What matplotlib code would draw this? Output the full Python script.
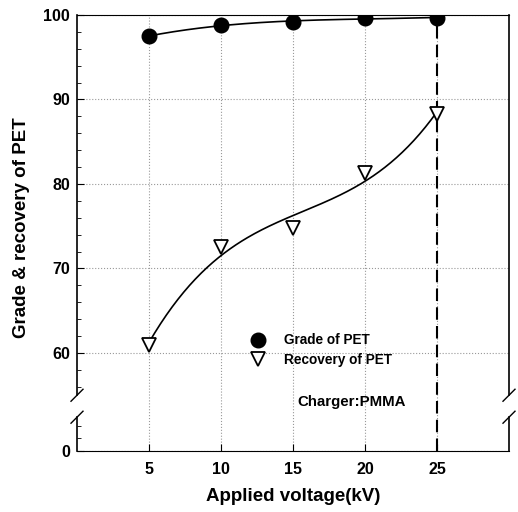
import numpy as np
import matplotlib
matplotlib.use("Agg")
import matplotlib.pyplot as plt
from matplotlib.scale import FuncScale
from matplotlib.ticker import FixedLocator

plt.rcParams['font.family'] = ['Liberation Sans', 'DejaVu Sans']
plt.rcParams['font.weight'] = 'bold'

voltage = [5, 10, 15, 20, 25]
grade = [97.5, 98.8, 99.2, 99.6, 99.7]
recovery = [61.0, 72.5, 74.8, 81.3, 88.3]

x_ticks = [5, 10, 15, 20, 25]
y_major = [0, 60, 70, 80, 90, 100]
y_minor = [1.5, 3] + list(range(56, 100, 2))

# broken y axis: 0-4 at the bottom, gap, then 55-100
LOW_TOP, HIGH_BOT, GAP = 4.0, 55.0, 2.6


def fwd(y):
    y = np.asarray(y, dtype=float)
    return np.where(y <= LOW_TOP, y,
                    np.where(y >= HIGH_BOT, y - HIGH_BOT + LOW_TOP + GAP,
                             LOW_TOP + (y - LOW_TOP) / (HIGH_BOT - LOW_TOP) * GAP))


def inv(s):
    s = np.asarray(s, dtype=float)
    return np.where(s <= LOW_TOP, s,
                    np.where(s >= LOW_TOP + GAP, s - LOW_TOP - GAP + HIGH_BOT,
                             LOW_TOP + (s - LOW_TOP) / GAP * (HIGH_BOT - LOW_TOP)))


fig = plt.figure(figsize=(5.18, 5.12), dpi=100)
ax = fig.add_axes([77 / 518, 1 - 451 / 512, 432 / 518, 436 / 512])
ax.set_yscale(FuncScale(ax, (fwd, inv)))
ax.set_xlim(0, 30)
ax.set_ylim(0, 100)

ax.yaxis.set_major_locator(FixedLocator(y_major))
ax.yaxis.set_minor_locator(FixedLocator(y_minor))
ax.set_yticklabels([str(v) for v in y_major])
ax.set_xticks(x_ticks)
ax.tick_params(axis='both', which='both', direction='in', labelsize=11.5)
ax.tick_params(axis='y', which='major', length=5, pad=5)
ax.tick_params(axis='y', which='minor', length=3)
ax.tick_params(axis='x', which='major', length=5, pad=8)

ax.grid(True, which='major', linestyle=':', color='#999999', linewidth=0.8)

# trend curves
xs = np.linspace(5, 25, 200)
ax.plot(xs, np.polyval(np.polyfit(voltage, grade, 3), xs), color='black', lw=1.2)
ax.plot(xs, np.polyval(np.polyfit(voltage, recovery, 3), xs), color='black', lw=1.2)

ax.plot(voltage, grade, 'o', color='black', ms=10.5, ls='none', label='Grade of PET', zorder=5)
ax.plot(voltage, recovery, 'v', mfc='white', mec='black', mew=1.3, ms=10.5,
        ls='none', label='Recovery of PET', zorder=5)

ax.axvline(25, color='black', lw=1.5, dashes=(6, 3), zorder=4)

# left/right spines with the break
ax.spines['left'].set_visible(False)
ax.spines['right'].set_visible(False)
trans = ax.get_yaxis_transform()
for xa in (0, 1):
    ax.plot([xa, xa], [0, LOW_TOP], color='black', lw=1.2, transform=trans, clip_on=False)
    ax.plot([xa, xa], [HIGH_BOT, 100], color='black', lw=1.2, transform=trans, clip_on=False)
s_max = float(fwd(100))
dx, dy = 6 / 432, 6 / 436
for yb in (LOW_TOP, HIGH_BOT):
    yf = float(fwd(yb)) / s_max
    for xa in (0, 1):
        ax.plot([xa - dx, xa + dx], [yf - dy, yf + dy], color='black', lw=1.0,
                transform=ax.transAxes, clip_on=False)

ax.legend(loc='upper left', bbox_to_anchor=(0.404, 0.27), frameon=False,
          fontsize=9.8, handlelength=1.0, handletextpad=1.35, borderpad=0,
          labelspacing=0.4, borderaxespad=0)

fig.text(297 / 518, 1 - 402 / 512, 'Charger:PMMA', fontsize=10.8,
         va='center', ha='left')

ax.set_xlabel('Applied voltage(kV)', fontsize=13.5, fontweight='bold', labelpad=8)
fig.text(22 / 518, 1 - 228 / 512, 'Grade & recovery of PET', rotation=90,
         fontsize=13.5, ha='center', va='center')

fig.savefig('out.png', dpi=100)
